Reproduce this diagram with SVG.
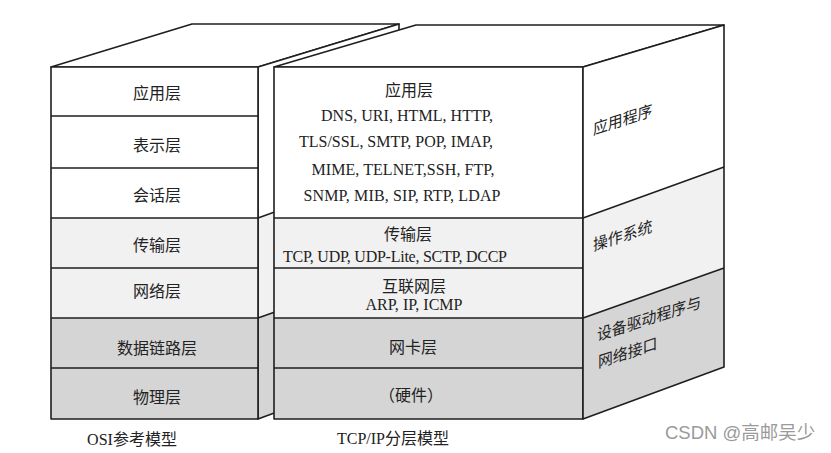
<svg xmlns="http://www.w3.org/2000/svg" width="831" height="453" viewBox="0 0 831 453">
<style>
.ln{stroke:#1e1e1e;stroke-width:1.6;fill:none;stroke-linejoin:round}
.w{fill:#ffffff}
.l{fill:#f1f1f1}
.g{fill:#d5d5d5}
.cn{font-family:"Liberation Serif","Noto Sans CJK SC",serif;font-size:16px;fill:#222;text-anchor:middle}
.en{font-family:"Liberation Serif","Noto Sans CJK SC",serif;font-size:16px;fill:#222;text-anchor:middle}
.sd{font-family:"Liberation Serif","Noto Sans CJK SC",serif;font-size:16px;fill:#222}
.wm{font-family:"Liberation Sans","Noto Sans CJK SC",sans-serif;font-size:18.5px;fill:#9a9a9a}
</style>
<rect width="831" height="453" fill="#ffffff"/>

<g id="osi-box">
  <polygon class="w" points="51,67 192,24 399,24 258,67"/>
  <polygon class="ln" points="51,67 192,24 399,24 258,67"/>
  <polygon class="w" points="258,67 399,24 399,167 258,218"/>
  <polygon class="l" points="258,218 399,167 399,268 258,318"/>
  <polygon class="g" points="258,318 399,268 399,367 258,419"/>
  <polygon class="ln" points="258,67 399,24 399,367 258,419"/>
  <line class="ln" x1="258" y1="218" x2="399" y2="167"/>
  <line class="ln" x1="258" y1="318" x2="399" y2="268"/>
  <rect class="w" x="51" y="67" width="207" height="151"/>
  <rect class="l" x="51" y="218" width="207" height="100"/>
  <rect class="g" x="51" y="318" width="207" height="101"/>
  <rect class="ln" x="51" y="67" width="207" height="352"/>
  <line class="ln" x1="51" y1="116" x2="258" y2="116"/>
  <line class="ln" x1="51" y1="168" x2="258" y2="168"/>
  <line class="ln" x1="51" y1="218" x2="258" y2="218"/>
  <line class="ln" x1="51" y1="268" x2="258" y2="268"/>
  <line class="ln" x1="51" y1="318" x2="258" y2="318"/>
  <line class="ln" x1="51" y1="368" x2="258" y2="368"/>
  <text class="cn" x="157" y="99">应用层</text>
  <text class="cn" x="157" y="151">表示层</text>
  <text class="cn" x="157" y="201">会话层</text>
  <text class="cn" x="157" y="251">传输层</text>
  <text class="cn" x="157" y="297">网络层</text>
  <text class="cn" x="157" y="354">数据链路层</text>
  <text class="cn" x="157" y="403">物理层</text>
</g>

<g id="tcpip-box">
  <polygon class="w" points="274,67 416,25 724,25 583,67"/>
  <polygon class="ln" points="274,67 416,25 724,25 583,67"/>
  <rect class="w" x="274" y="67" width="309" height="151"/>
  <rect class="l" x="274" y="218" width="309" height="100"/>
  <rect class="g" x="274" y="318" width="309" height="101"/>
  <rect class="ln" x="274" y="67" width="309" height="352"/>
  <line class="ln" x1="274" y1="218" x2="583" y2="218"/>
  <line class="ln" x1="274" y1="268" x2="583" y2="268"/>
  <line class="ln" x1="274" y1="318" x2="583" y2="318"/>
  <line class="ln" x1="274" y1="368" x2="583" y2="368"/>
  <text class="cn" x="409" y="96">应用层</text>
  <text class="en" x="407" y="121" textLength="172">DNS, URI, HTML, HTTP,</text>
  <text class="en" x="396" y="147" textLength="194">TLS/SSL, SMTP, POP, IMAP,</text>
  <text class="en" x="403" y="175" textLength="183">MIME, TELNET,SSH, FTP,</text>
  <text class="en" x="402" y="201" textLength="197">SNMP, MIB, SIP, RTP, LDAP</text>
  <text class="cn" x="408" y="240">传输层</text>
  <text class="en" x="395" y="262" textLength="224">TCP, UDP, UDP-Lite, SCTP, DCCP</text>
  <text class="cn" x="414" y="292">互联网层</text>
  <text class="en" x="414" y="310" textLength="97">ARP, IP, ICMP</text>
  <text class="cn" x="413" y="353">网卡层</text>
  <text class="cn" x="411" y="401">（硬件）</text>
</g>

<g id="side-face">
  <polygon class="w" points="583,67 724,25 724,167 583,218"/>
  <polygon class="l" points="583,218 724,167 724,268 583,318"/>
  <polygon class="g" points="583,318 724,268 724,367 583,419"/>
  <polygon class="ln" points="583,67 724,25 724,367 583,419"/>
  <line class="ln" x1="583" y1="218" x2="724" y2="167"/>
  <line class="ln" x1="583" y1="318" x2="724" y2="268"/>
  <text class="sd" transform="matrix(0.93,-0.3,0,1,593,135)">应用程序</text>
  <text class="sd" transform="matrix(0.93,-0.3,0,1,593,251)">操作系统</text>
  <text class="sd" transform="matrix(0.93,-0.3,0,1,597,341)">设备驱动程序与</text>
  <text class="sd" transform="matrix(0.93,-0.3,0,1,598,368)">网络接口</text>
</g>

<g id="captions">
  <text class="cn" x="132" y="445">OSI参考模型</text>
  <text class="cn" x="393" y="444">TCP/IP分层模型</text>
  <text class="wm" x="665" y="439">CSDN @高邮吴少</text>
</g>

<g id="connectors"></g>
</svg>
